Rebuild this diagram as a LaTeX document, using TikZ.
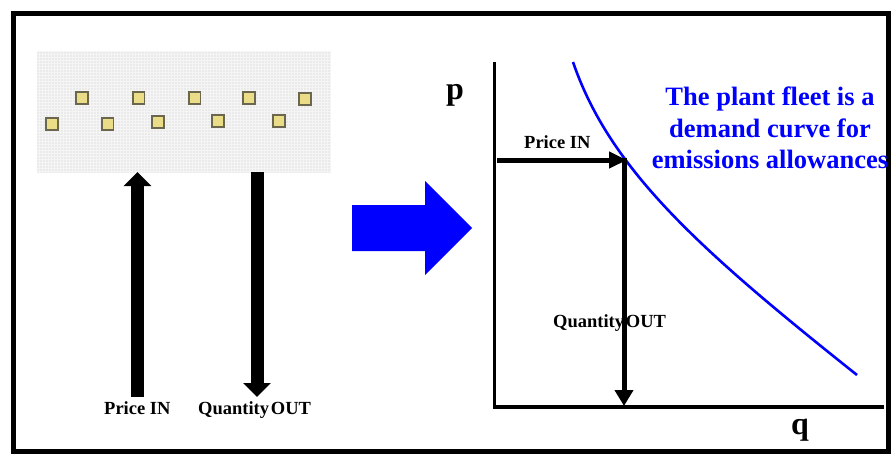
\documentclass[tikz,border=0pt]{standalone}
\usepackage{fontspec}
\setmainfont{Liberation Serif}
\usetikzlibrary{arrows.meta}
\definecolor{panelgray}{HTML}{EAEAEA}
\definecolor{gridline}{HTML}{F5F5F5}
\definecolor{plantfill}{HTML}{EBDD88}
\definecolor{plantedge}{HTML}{6A674E}
\definecolor{pureblue}{HTML}{0000FF}
\begin{document}
\begin{tikzpicture}[x=1pt,y=-1pt,
  lbl/.style={font=\bfseries\fontsize{18.5}{21}\selectfont, inner sep=0pt, anchor=base west},
  axlbl/.style={font=\bfseries\fontsize{32}{36}\selectfont, inner sep=0pt, anchor=base west},
  plant/.style={draw=plantedge, fill=plantfill, line width=1.8pt, minimum size=11.8pt, inner sep=0pt},
  bigarrow/.style={line width=13pt, -{Triangle[length=14pt,width=27pt]}},
  thinarrow/.style={line width=5pt, -{Triangle[length=18pt,width=16pt]}},
  note/.style={font=\bfseries\fontsize{26.5}{31.5}\selectfont, text=pureblue, align=center, inner sep=0pt}]
\useasboundingbox (0,0) rectangle (891,458);
\fill[white] (0,0) rectangle (891,458);
% outer frame
\draw[line width=5pt] (13,13) rectangle (888,451);

% plant panel
\fill[panelgray] (37,51) rectangle (330,173);
\draw[gridline, line width=0.6pt, step=3pt] (37,51) grid (330,173);
\foreach \i/\x/\y in {1/82/98, 2/138.5/98, 3/194.5/98, 4/249/98, 5/305/99,
                      6/52/124, 7/107.5/124, 8/158/122, 9/218/121, 10/279/121}
  \node[plant] (plant\i) at (\x,\y) {};

% left arrows
\coordinate (pinbot) at (137.5,397);
\coordinate (pintop) at (137.5,172);
\coordinate (qouttop) at (257,172);
\coordinate (qoutbot) at (257,397);
\draw[bigarrow] (pinbot) -- (pintop);
\draw[bigarrow] (qouttop) -- (qoutbot);
\node[lbl] (lpin) at (104,414) {Price IN};
\node[lbl] (lqout) at (198,414) {Quantity\hspace{0.1em}OUT};

% big blue arrow
\fill[pureblue] (352,205) -- (425,205) -- (425,181) -- (472,228) -- (425,275) -- (425,251) -- (352,251) -- cycle;

% axes
\coordinate (ytop) at (494.5,62);
\coordinate (origin) at (494.5,407);
\coordinate (xend) at (884,407);
\draw[line width=3.5pt] (ytop) -- (origin) -- (xend);
\node[axlbl] (plbl) at (446,99) {p};
\node[axlbl] (qlbl) at (791,434) {q};

% demand curve
\coordinate (cstart) at (573,62);
\coordinate (cend) at (857,375);
\draw[pureblue, line width=2.6pt] (cstart) .. controls (610,170) and (700,250) .. (cend);

% labels and arrows on graph
\node[lbl] (rpin) at (524,148) {Price IN};
\node[lbl] (rqout) at (553,327) {Quantity\hspace{0.1em}OUT};
\coordinate (hstart) at (497,160);
\coordinate (meet) at (627,160);
\coordinate (vstart) at (624,157.5);
\coordinate (vend) at (624,406);
\draw[thinarrow] (hstart) -- (meet);
\draw[thinarrow, -{Triangle[length=16pt,width=18pt]}] (vstart) -- (vend);

% blue note
\node[note] (note) at (770,128) {The plant fleet is a\\demand curve for\\emissions allowances};
\end{tikzpicture}
\end{document}
